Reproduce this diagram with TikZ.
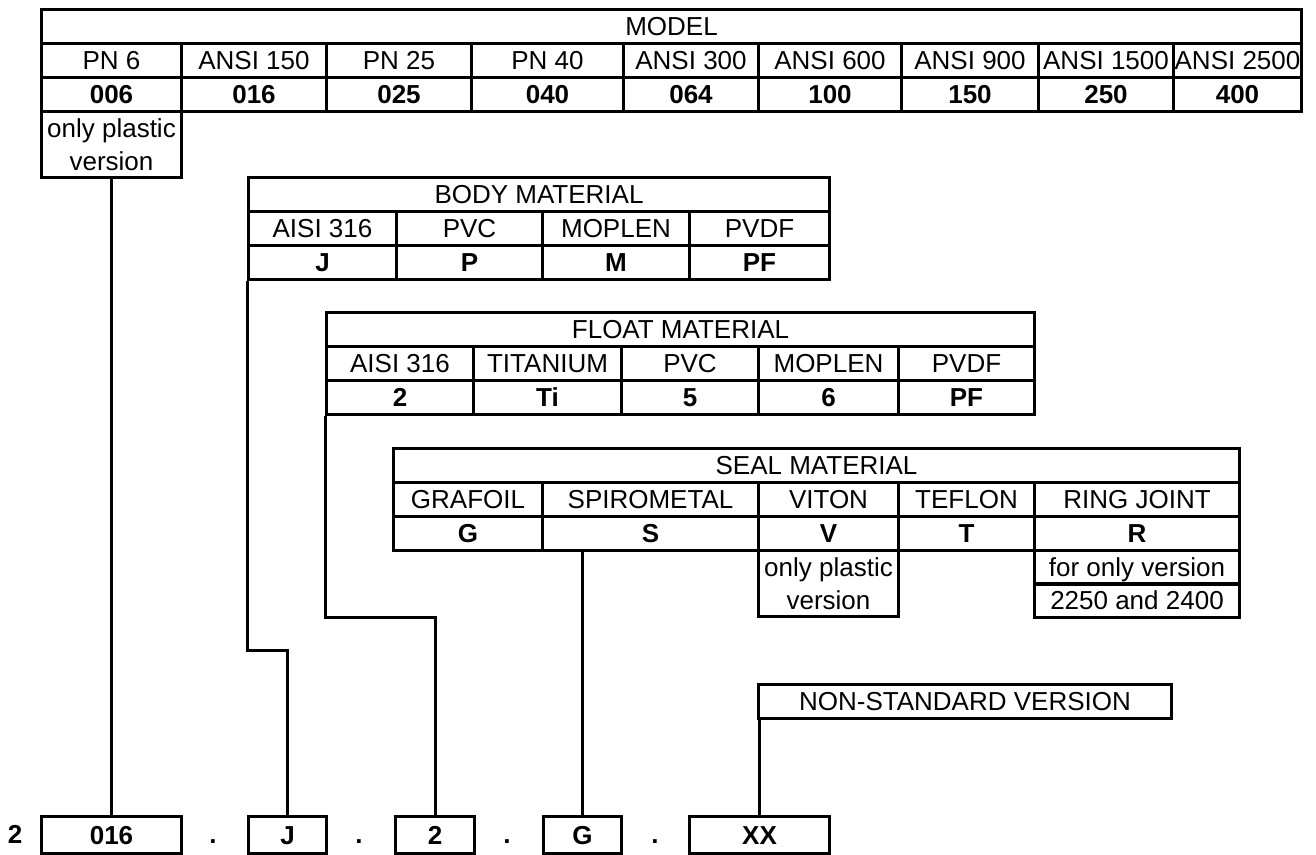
\documentclass[tikz,border=0pt]{standalone}
\usepackage{fontspec}
\setmainfont{Liberation Sans}
\usetikzlibrary{calc}

\begin{document}
\begin{tikzpicture}[x=0.5pt,y=-0.5pt,line width=1.5pt,
	cell/.style={draw,inner sep=0pt,anchor=north west,minimum height=17pt,
		text height=9.4pt,text depth=0pt,font=\fontsize{13}{16.5}\selectfont},
	code/.style={cell,font=\fontsize{13}{16.5}\selectfont\bfseries},
	note/.style={cell,align=center,minimum height=33pt,text height=25.9pt}]
	
	\useasboundingbox (0,0) rectangle (1316,855);
	
	% model
	\node[cell,minimum width=630pt] (model) at (40,8) {MODEL};
	\foreach \a/\b/\txt/\cd/\n in {40/180/PN 6/006/1,180/325/ANSI 150/016/2,
		325/470/PN 25/025/3,470/622/PN 40/040/4,622/757/ANSI 300/064/5,
		757/900/ANSI 600/100/6,900/1037/ANSI 900/150/7,1037/1172/ANSI 1500/250/8,
		1172/1300/ANSI 2500/400/9}
	{
		\node[cell,minimum width={(\b-\a)*0.5pt}] (m\n) at (\a,42) {\txt};
		\node[code,minimum width={(\b-\a)*0.5pt}] (mc\n) at (\a,76) {\cd};
	}
	\node[note,minimum width=70pt] (mnote) at (40,110) {only plastic\\version};
	
	% body material
	\node[cell,minimum width=290.5pt] (body) at (247,176) {BODY MATERIAL};
	\foreach \a/\b/\txt/\cd/\n in {247/395/AISI 316/J/1,395/541/PVC/P/2,
		541/688/MOPLEN/M/3,688/828/PVDF/PF/4}
	{
		\node[cell,minimum width={(\b-\a)*0.5pt}] (b\n) at (\a,210) {\txt};
		\node[code,minimum width={(\b-\a)*0.5pt}] (bc\n) at (\a,244) {\cd};
	}
	
	% float material
	\node[cell,minimum width=354pt] (float) at (325,311) {FLOAT MATERIAL};
	\foreach \a/\b/\txt/\cd/\n in {325/472/AISI 316/2/1,472/620/TITANIUM/Ti/2,
		620/757/PVC/5/3,757/897/MOPLEN/6/4,897/1033/PVDF/PF/5}
	{
		\node[cell,minimum width={(\b-\a)*0.5pt}] (f\n) at (\a,345) {\txt};
		\node[code,minimum width={(\b-\a)*0.5pt}] (fc\n) at (\a,379) {\cd};
	}
	
	% seal material
	\node[cell,minimum width=423pt] (seal) at (392,447) {SEAL MATERIAL};
	\foreach \a/\b/\txt/\cd/\n in {392/541/GRAFOIL/G/1,541/757/SPIROMETAL/S/2,
		757/897/VITON/V/3,897/1033/TEFLON/T/4,1033/1238/RING JOINT/R/5}
	{
		\node[cell,minimum width={(\b-\a)*0.5pt}] (s\n) at (\a,481) {\txt};
		\node[code,minimum width={(\b-\a)*0.5pt}] (sc\n) at (\a,515) {\cd};
	}
	\node[note,minimum width=70pt] (snote) at (757,549) {only plastic\\version};
	\node[cell,minimum width=102.5pt] (rnote1) at (1033,549) {for only version};
	\node[cell,minimum width=102.5pt] (rnote2) at (1033,582) {2250 and 2400};
	
	% non-standard
	\node[cell,minimum width=206.5pt] (extra) at (757,683) {NON-STANDARD VERSION};
	
	% code line
	\node[font=\fontsize{13}{16.5}\selectfont\bfseries,anchor=base] (pre) at (15,843) {2};
	\node[code,minimum width=70pt,minimum height=18.5pt] (cmodel) at (40,815) {016};
	\node[code,minimum width=39pt,minimum height=18.5pt] (cbody) at (247,815) {J};
	\node[code,minimum width=39.5pt,minimum height=18.5pt] (cfloat) at (394,815) {2};
	\node[code,minimum width=39pt,minimum height=18.5pt] (cseal) at (542,815) {G};
	\node[code,minimum width=70pt,minimum height=18.5pt] (cextra) at (688,815) {XX};
	\foreach \x/\n in {213/1,359/2,507/3,655/4}
		\node[font=\fontsize{13}{16.5}\selectfont\bfseries,anchor=base] (dot\n) at (\x,843) {.};
	
	% connectors
	\draw (mnote.south) -- (cmodel.north);
	\draw (bc1.south west) -- ++(0,369) -| (cbody.north);
	\draw (fc1.south west) -- ++(0,201) -| (cfloat.north);
	\draw (cseal.north |- sc2.south) -- (cseal.north);
	\draw (cextra.north |- extra.south) -- (cextra.north);
\end{tikzpicture}
\end{document}
